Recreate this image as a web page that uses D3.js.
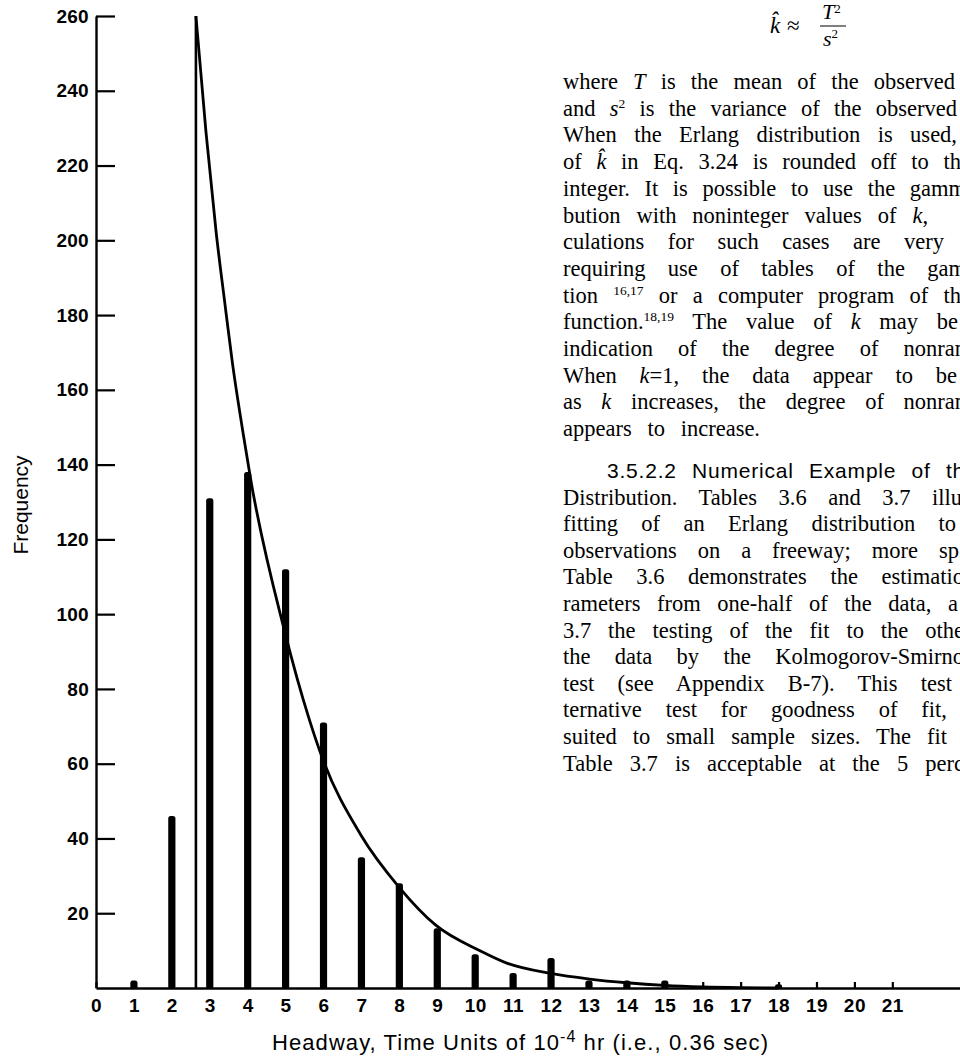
<!DOCTYPE html>
<html>
<head>
<meta charset="utf-8">
<script src="https://cdn.jsdelivr.net/npm/d3@7"></script>
<style>
  html, body { margin: 0; padding: 0; background: #fff; }
  svg { display: block; }
</style>
</head>
<body>
<svg id="page" width="960" height="1061"></svg>
<script>
// Observed headway frequencies (headway in units of 10^-4 hr)
const headways = d3.range(1, 22);
const frequencies = [2, 46, 131, 138, 112, 71, 35, 28, 16, 9, 4, 8, 2, 2, 2, 0, 0, 1, 0, 0, 0];

// Fitted Erlang curve, read as (headway, frequency) pairs
const fitStart = 2.635;
const fitCurve = [
  [2.635, 260], [2.9, 229], [3.17, 202], [3.4, 183], [3.6, 167], [3.87, 149],
  [4.08, 136], [4.96, 96], [5.62, 72], [5.97, 61.5], [6.98, 41], [7.99, 27],
  [8.96, 16.8], [10.14, 9.9], [10.85, 6.6], [11.99, 3.9], [13.02, 2.4],
  [14, 1.4], [15, 0.7], [16, 0.3], [17, 0.1], [18, 0]
];

// Axis ticks
const xTicks = d3.range(0, 22);
const yTicks = d3.range(20, 261, 20);

// Axis titles
const xTitle = ["Headway, Time Units of 10", "-4", " hr (i.e., 0.36 sec)"];
const yTitle = "Frequency";

// Running text beside the figure (_italic_, ^superscript^)
const bodyPara1 = [
  "where _T_ is the mean of the observed",
  "and _s_^2^ is the variance of the observed",
  "When the Erlang distribution is used,",
  "of _k\u0302_ in Eq. 3.24 is rounded off to th",
  "integer. It is possible to use the gamm",
  "bution with noninteger values of _k_,",
  "culations for such cases are very",
  "requiring use of tables of the gam",
  "tion ^16,17^ or a computer program of th",
  "function.^18,19^ The value of _k_ may be",
  "indication of the degree of nonran",
  "When _k_=1, the data appear to be",
  "as _k_ increases, the degree of nonran",
  "appears to increase."
];
const para1Ends = [955, 957, 957, 961, 966, 928, 944, 966, 961, 958, 966, 957, 966, 760];

const headingLine = "3.5.2.2 Numerical Example of th";
const bodyPara2 = [
  "Distribution. Tables 3.6 and 3.7 illu",
  "fitting of an Erlang distribution to",
  "observations on a freeway; more sp",
  "Table 3.6 demonstrates the estimatio",
  "rameters from one-half of the data, a",
  "3.7 the testing of the fit to the othe",
  "the data by the Kolmogorov-Smirno",
  "test (see Appendix B-7). This test",
  "ternative test for goodness of fit,",
  "suited to small sample sizes. The fit",
  "Table 3.7 is acceptable at the 5 perc"
];
const para2Ends = [962, 956, 959, 964, 958, 964, 964, 952, 947, 947, 964];

// ---------------------------------------------------------------
const svg = d3.select("#page");
svg.append("rect").attr("width", 960).attr("height", 1061).attr("fill", "#fff");

const x = d3.scaleLinear().domain([0, 22.785]).range([96, 960]);
const y = d3.scaleLinear().domain([0, 260]).range([988, 16]);

const sans = "'Liberation Sans', Arial, Helvetica, sans-serif";
const serif = "'Liberation Serif', 'Times New Roman', serif";

// Y axis: ticks point into the plot, labels on the left
const yAxis = svg.append("g")
  .attr("transform", `translate(${x(0)},0)`)
  .call(d3.axisLeft(y).tickValues(yTicks).tickSizeInner(-19).tickSizeOuter(0).tickPadding(7));
yAxis.select(".domain").attr("stroke", "#000").attr("stroke-width", 2.4);
yAxis.selectAll(".tick line").attr("stroke", "#000").attr("stroke-width", 2.2);
yAxis.selectAll(".tick text")
  .attr("fill", "#000").attr("font-family", sans).attr("font-weight", 700)
  .attr("font-size", 19).attr("letter-spacing", 0.3);

// X axis: short upward ticks, domain runs to the page edge
const xAxis = svg.append("g")
  .attr("transform", `translate(0,${y(0)})`)
  .call(d3.axisBottom(x).tickValues(xTicks).tickSizeInner(-6).tickSizeOuter(0).tickPadding(11).tickFormat(d3.format("d")));
xAxis.select(".domain").attr("stroke", "#000").attr("stroke-width", 2.6);
xAxis.selectAll(".tick line").attr("stroke", "#000").attr("stroke-width", 2.2);
xAxis.selectAll(".tick text")
  .attr("fill", "#000").attr("font-family", sans).attr("font-weight", 700)
  .attr("font-size", 19).attr("letter-spacing", 0.5);

// Observed frequency bars
svg.append("g").selectAll("rect")
  .data(headways.map((h, i) => ({ h, v: frequencies[i] })).filter(d => d.v > 0))
  .join("rect")
  .attr("x", d => x(d.h) - 3.6)
  .attr("width", 7.2)
  .attr("y", d => y(d.v))
  .attr("height", d => y(0) - y(d.v) + 1)
  .attr("rx", 2.5)
  .attr("fill", "#000");

// Fitted curve: vertical rise at the shift, then the decaying tail
const line = d3.line().x(d => x(d[0])).y(d => y(d[1]));
svg.append("path")
  .attr("d", line([[fitStart, 0], [fitStart, fitCurve[0][1]]]))
  .attr("fill", "none").attr("stroke", "#000").attr("stroke-width", 2.6);
svg.append("path")
  .attr("d", line.curve(d3.curveMonotoneX)(fitCurve))
  .attr("fill", "none").attr("stroke", "#000").attr("stroke-width", 2.8)
  .attr("stroke-linejoin", "round");

// Axis titles
const xt = svg.append("text")
  .attr("x", 520).attr("y", 1050)
  .attr("text-anchor", "middle")
  .attr("font-family", sans).attr("font-size", 22).attr("fill", "#000")
  .attr("textLength", 496).attr("lengthAdjust", "spacing");
xt.append("tspan").text(xTitle[0]);
xt.append("tspan").attr("dy", -8).attr("font-size", 16).text(xTitle[1]);
xt.append("tspan").attr("dy", 8).text(xTitle[2]);

svg.append("text")
  .attr("transform", "translate(28,505) rotate(-90)")
  .attr("text-anchor", "middle")
  .attr("font-family", sans).attr("font-size", 21).attr("fill", "#000")
  .text(yTitle);

// Formula  k^ ≈ T² / s²
const fml = svg.append("g").attr("font-family", serif).attr("fill", "#000");
fml.append("text").attr("x", 770).attr("y", 33).attr("font-size", 23).attr("font-style", "italic").text("k\u0302");
fml.append("text").attr("x", 787).attr("y", 33).attr("font-size", 23).text("\u2248");
const tNum = fml.append("text").attr("x", 822).attr("y", 19).attr("font-size", 22);
tNum.append("tspan").attr("font-style", "italic").text("T");
tNum.append("tspan").attr("dy", -6).attr("font-size", 13).text("2");
svg.append("line").attr("x1", 820).attr("x2", 846).attr("y1", 26).attr("y2", 26)
  .attr("stroke", "#000").attr("stroke-width", 1);
const sDen = fml.append("text").attr("x", 823).attr("y", 46).attr("font-size", 22);
sDen.append("tspan").attr("font-style", "italic").text("s");
sDen.append("tspan").attr("dy", -8).attr("font-size", 13).text("2");

// Justified body text
function drawLine(str, x0, x1, yPos, family, size, spacing) {
  const t = svg.append("text")
    .attr("x", x0).attr("y", yPos)
    .attr("font-family", family).attr("font-size", size).attr("fill", "#000")
    .attr("letter-spacing", spacing || 0)
    .attr("xml:space", "preserve");
  const parts = str.split(/(_[^_]+_|\^[^^]+\^)/).filter(s => s.length);
  let raised = false;
  parts.forEach(p => {
    if (p.startsWith("_")) {
      t.append("tspan").attr("font-style", "italic").text(p.slice(1, -1));
    } else if (p.startsWith("^")) {
      t.append("tspan").attr("dy", -8).attr("font-size", size * 0.6).text(p.slice(1, -1));
      raised = true;
    } else {
      const ts = t.append("tspan").text(p);
      if (raised) { ts.attr("dy", 8); raised = false; }
    }
  });
  const natural = t.node().getComputedTextLength();
  const spaces = (str.match(/ /g) || []).length;
  if (spaces > 0) t.attr("word-spacing", (x1 - x0 - natural) / spaces);
}

const leftX = 563, lineGap = 26.7;
bodyPara1.forEach((s, i) => drawLine(s, leftX, para1Ends[i], 89 + i * lineGap, serif, 22.5));
drawLine(headingLine, 607, 965, 478, sans, 21, 0.8);
bodyPara2.forEach((s, i) => drawLine(s, leftX, para2Ends[i], 478 + (i + 1) * 26.6, serif, 22.5));
</script>
</body>
</html>
